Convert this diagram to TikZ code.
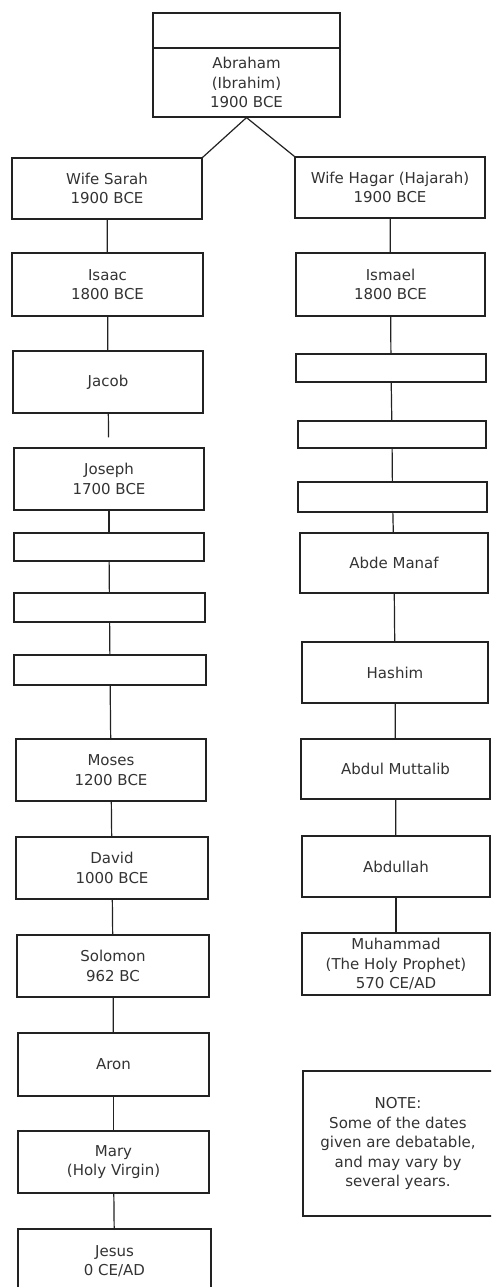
\documentclass[tikz,border=0pt]{standalone}
\usepackage{fontspec}
\setmainfont{DejaVu Sans}
\definecolor{linec}{HTML}{222222}
\definecolor{txtc}{HTML}{333333}
\begin{document}
\begin{tikzpicture}[x=1pt,y=-1pt,
  box/.style={draw=linec, line width=1.2pt, minimum width=190pt, inner sep=0pt,
    align=center, font=\fontsize{15}{19.5}\selectfont, text=txtc},
  txt/.style={inner sep=0pt, align=center, font=\fontsize{15}{19.5}\selectfont, text=txtc},
  link/.style={draw=linec, line width=1.2pt}]
\useasboundingbox (0,0) rectangle (491,1287);
\fill[white] (0,0) rectangle (491,1287);
\clip (0,0) rectangle (491,1287);

% top
\node[box, minimum width=187pt, minimum height=104pt] (abr) at (246.5,65) {};
\coordinate (dl) at (153,48);
\coordinate (dr) at (340,48);
\draw[link] (dl) -- (dr);
\node[txt] (abrtxt) at (246.5,82.5) {Abraham\\(Ibrahim)\\1900 BCE};

% left column
\node[box, minimum height=61pt] (sarah) at (107,188.5) {Wife Sarah\\1900 BCE};
\node[box, minimum height=63pt, minimum width=191pt] (isaac) at (107.5,284.5) {Isaac\\1800 BCE};
\node[box, minimum height=62pt] (jacob) at (108,382) {Jacob};
\node[box, minimum height=62pt] (joseph) at (109,479) {Joseph\\1700 BCE};
\node[box, minimum height=28pt] (l1) at (109,547) {};
\node[box, minimum height=29pt, minimum width=191pt] (l2) at (109.5,607.5) {};
\node[box, minimum height=30pt, minimum width=192pt] (l3) at (110,670) {};
\node[box, minimum height=62pt] (moses) at (111,770) {Moses\\1200 BCE};
\node[box, minimum height=62pt, minimum width=192pt] (david) at (112,868) {David\\1000 BCE};
\node[box, minimum height=62pt, minimum width=192pt] (solomon) at (113,966) {Solomon\\962 BC};
\node[box, minimum height=63pt, minimum width=191pt] (aron) at (113.5,1064.5) {Aron};
\node[box, minimum height=62pt, minimum width=191pt] (mary) at (113.5,1162) {Mary\\(Holy Virgin)};
\node[box, minimum height=64pt, minimum width=193pt] (jesus) at (114.5,1261) {Jesus\\0 CE/AD};

% right column
\node[box, minimum height=61pt] (hagar) at (390,187.5) {Wife Hagar (Hajarah)\\1900 BCE};
\node[box, minimum height=63pt, minimum width=189pt] (ismael) at (390.5,284.5) {Ismael\\1800 BCE};
\node[box, minimum height=28pt] (r1) at (391,368) {};
\node[box, minimum height=27pt, minimum width=188pt] (r2) at (392,434.5) {};
\node[box, minimum height=30pt, minimum width=189pt] (r3) at (392.5,497) {};
\node[box, minimum height=60pt, minimum width=188pt] (manaf) at (394,563) {Abde Manaf};
\node[box, minimum height=61pt, minimum width=186pt] (hashim) at (395,672.5) {Hashim};
\node[box, minimum height=60pt, minimum width=189pt] (muttalib) at (395.5,769) {Abdul Muttalib};
\node[box, minimum height=61pt, minimum width=188pt] (abdullah) at (396,866.5) {Abdullah};
\node[box, minimum height=62pt, minimum width=188pt] (muhammad) at (396,964) {Muhammad\\(The Holy Prophet)\\570 CE/AD};
\node[box, minimum height=145pt, minimum width=190pt] (note) at (398,1143.5) {NOTE:\\Some of the dates\\given are debatable,\\and may vary by\\several years.};

% connectors
\draw[link] (abr.south) -- (sarah.north east);
\draw[link] (abr.south) -- (hagar.north west);
\draw[link] (sarah) -- (isaac);
\draw[link] (isaac) -- (jacob);
\draw[link, shorten >=10pt] (jacob) -- (joseph);
\draw[link] (joseph) -- (l1);
\draw[link] (l1) -- (l2);
\draw[link] (l2) -- (l3);
\draw[link] (l3) -- (moses);
\draw[link] (moses) -- (david);
\draw[link] (david) -- (solomon);
\draw[link] (solomon) -- (aron);
\draw[link] (aron) -- (mary);
\draw[link] (mary) -- (jesus);
\draw[link] (hagar) -- (ismael);
\draw[link] (ismael) -- (r1);
\draw[link] (r1) -- (r2);
\draw[link] (r2) -- (r3);
\draw[link] (r3) -- (manaf);
\draw[link] (manaf) -- (hashim);
\draw[link] (hashim) -- (muttalib);
\draw[link] (muttalib) -- (abdullah);
\draw[link] (abdullah) -- (muhammad);
\end{tikzpicture}
\end{document}
